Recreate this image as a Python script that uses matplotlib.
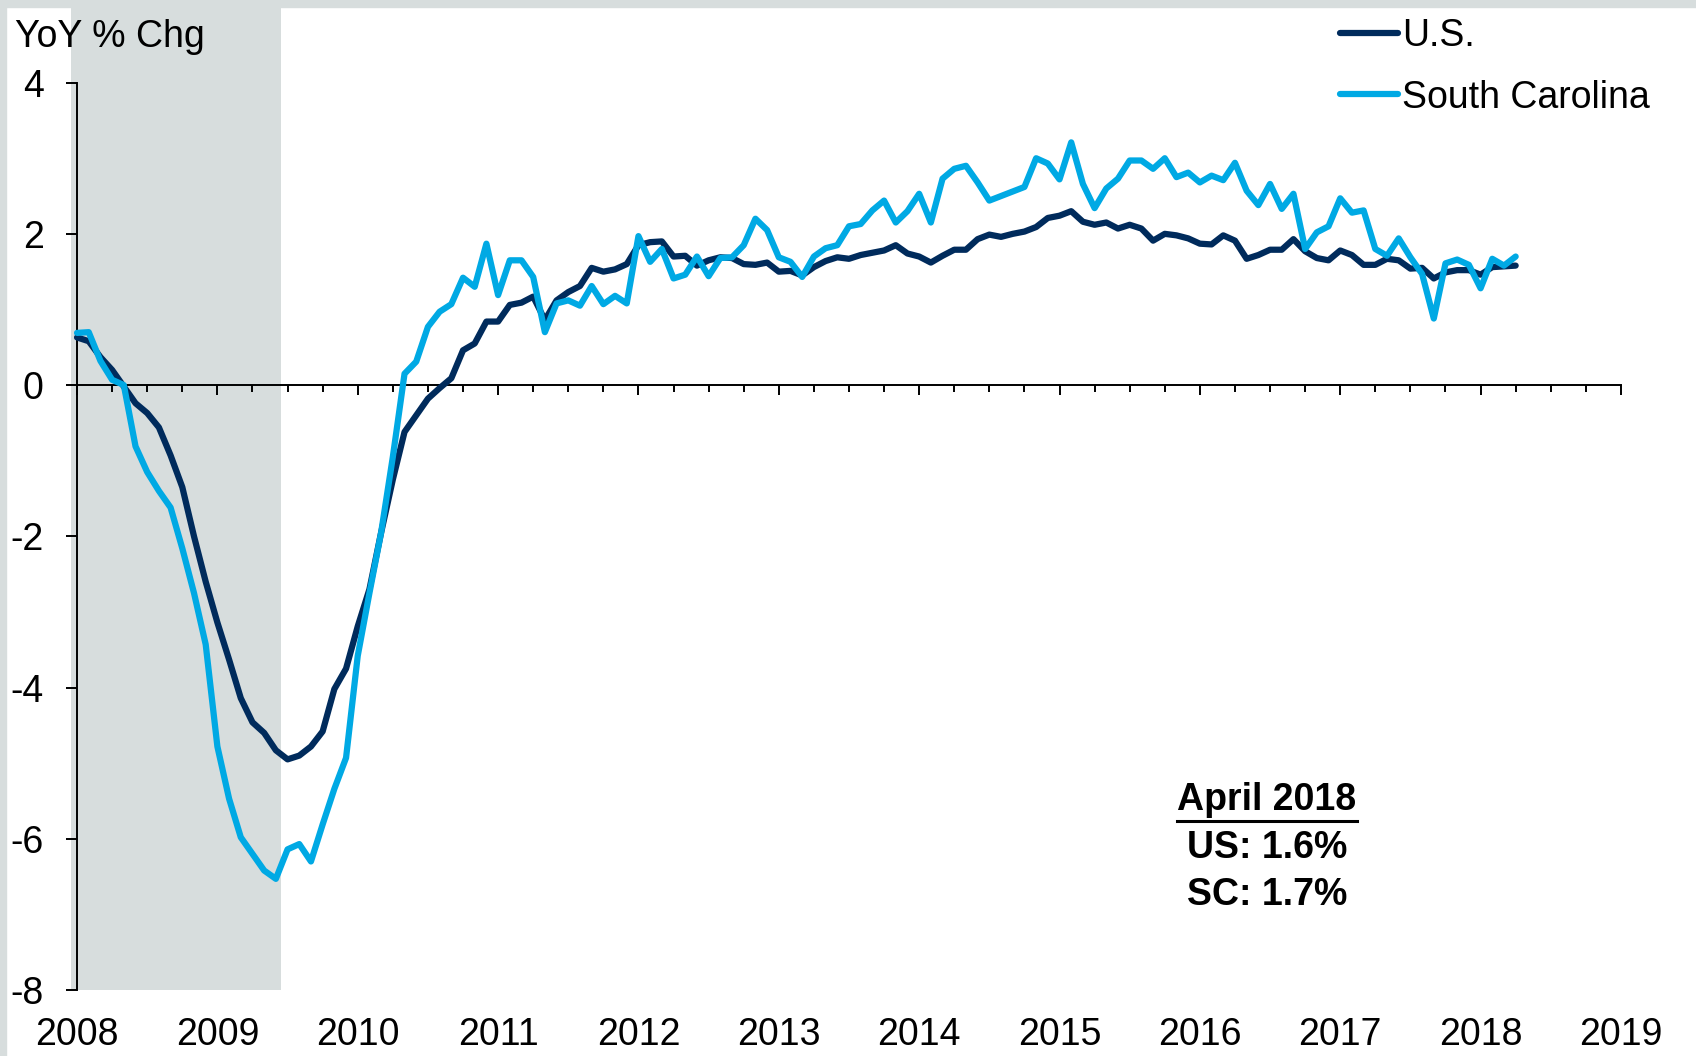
import matplotlib
matplotlib.use("Agg")
import matplotlib.pyplot as plt
import numpy as np
import pandas as pd
from matplotlib.lines import Line2D

plt.rcParams['font.family'] = ['Liberation Sans', 'DejaVu Sans']
plt.rcParams['axes.unicode_minus'] = False

# monthly YoY % change, Jan 2008 - Apr 2018
months = pd.date_range('2008-01-01', '2018-04-01', freq='MS')

us = [0.63, 0.58, 0.37, 0.20, -0.02, -0.24, -0.37, -0.56, -0.93, -1.35, -2.00, -2.60,
      -3.14, -3.63, -4.14, -4.46, -4.60, -4.83, -4.95, -4.90, -4.78, -4.58, -4.02, -3.75,
      -3.19, -2.70, -1.95, -1.25, -0.62, -0.40, -0.18, -0.04, 0.09, 0.46, 0.55, 0.84,
      0.84, 1.06, 1.09, 1.17, 0.86, 1.12, 1.23, 1.31, 1.55, 1.50, 1.53, 1.60,
      1.85, 1.89, 1.90, 1.70, 1.71, 1.58, 1.65, 1.69, 1.68, 1.60, 1.59, 1.62,
      1.50, 1.51, 1.45, 1.56, 1.64, 1.69, 1.67, 1.72, 1.75, 1.78, 1.85, 1.74,
      1.70, 1.62, 1.71, 1.79, 1.79, 1.93, 1.99, 1.96, 2.00, 2.03, 2.09, 2.21,
      2.24, 2.30, 2.16, 2.12, 2.15, 2.07, 2.12, 2.07, 1.91, 2.00, 1.98, 1.94,
      1.87, 1.86, 1.98, 1.91, 1.67, 1.72, 1.79, 1.79, 1.93, 1.77, 1.68, 1.65,
      1.78, 1.72, 1.59, 1.59, 1.67, 1.65, 1.54, 1.55, 1.41, 1.49, 1.52, 1.52,
      1.46, 1.56, 1.57, 1.58]

sc = [0.69, 0.70, 0.32, 0.07, 0.00, -0.81, -1.15, -1.40, -1.62, -2.16, -2.75, -3.43,
      -4.78, -5.47, -5.98, -6.20, -6.42, -6.53, -6.14, -6.07, -6.30, -5.81, -5.34, -4.93,
      -3.58, -2.75, -1.95, -0.95, 0.15, 0.31, 0.77, 0.97, 1.07, 1.42, 1.30, 1.87,
      1.19, 1.65, 1.65, 1.43, 0.70, 1.08, 1.12, 1.05, 1.31, 1.07, 1.18, 1.08,
      1.97, 1.63, 1.80, 1.41, 1.46, 1.70, 1.44, 1.68, 1.69, 1.85, 2.20, 2.05,
      1.69, 1.63, 1.43, 1.70, 1.81, 1.85, 2.10, 2.13, 2.31, 2.44, 2.15, 2.30,
      2.53, 2.15, 2.73, 2.86, 2.90, 2.68, 2.44, 2.50, 2.56, 2.62, 3.00, 2.93,
      2.72, 3.21, 2.66, 2.34, 2.60, 2.73, 2.97, 2.97, 2.86, 3.00, 2.75, 2.81,
      2.68, 2.77, 2.71, 2.94, 2.57, 2.38, 2.66, 2.33, 2.53, 1.80, 2.02, 2.10,
      2.47, 2.28, 2.31, 1.80, 1.71, 1.94, 1.69, 1.47, 0.88, 1.61, 1.66, 1.59,
      1.28, 1.67, 1.58, 1.70]

years = list(range(2008, 2020))
yticks = [-8, -6, -4, -2, 0, 2, 4]
recession = (2007.96, 2009.45)

navy = '#002B5C'
light = '#00A9E4'
gray = '#D7DDDD'
fs = 27

t = months.year + (months.month - 1) / 12.0

fig = plt.figure(figsize=(16.96, 10.56), dpi=100)
# grey frame strips on top and left
fig.patches.append(plt.Rectangle((0, 1 - 7 / 1056), 1, 7 / 1056, transform=fig.transFigure,
                                 color=gray, zorder=0))
fig.patches.append(plt.Rectangle((0, 0), 6 / 1696, 1, transform=fig.transFigure,
                                 color=gray, zorder=0))

ax = fig.add_axes([63 / 1696, 66 / 1056, 1586 / 1696, 983 / 1056])
ax.patch.set_alpha(0)
ax.set_xlim(2007.9, 2019.2)
ax.set_ylim(-8, 5.0)

ax.axvspan(recession[0], recession[1], color=gray, lw=0, zorder=0)

ax.plot(t, us, color=navy, lw=4.5, label='U.S.', solid_capstyle='round', zorder=3)
ax.plot(t, sc, color=light, lw=4.5, label='South Carolina', solid_capstyle='round', zorder=4)

for s in ['top', 'right']:
    ax.spines[s].set_visible(False)
ax.spines['left'].set_position(('data', 2008))
ax.spines['left'].set_bounds(-8, 4)
ax.spines['bottom'].set_position(('data', 0))
ax.spines['bottom'].set_bounds(2008, 2019)
ax.spines['left'].set_linewidth(1.4)
ax.spines['bottom'].set_linewidth(1.4)

ax.set_yticks(yticks)
ax.set_yticklabels([str(v) for v in yticks])
ax.tick_params(axis='y', direction='out', length=8, width=1.4, pad=16, labelsize=fs)

ax.set_xticks(years)
ax.set_xticks(np.arange(2008, 2019.01, 0.25), minor=True)
ax.tick_params(axis='x', which='major', direction='out', length=7, width=1.4, labelbottom=False)
ax.tick_params(axis='x', which='minor', direction='out', length=5, width=1.4)

for yr in years:
    ax.text(yr, -8.6, str(yr), ha='center', va='center', fontsize=fs, clip_on=False)

fig.text(15 / 1696, 1 - 47 / 1056, 'YoY % Chg', fontsize=fs, va='baseline', ha='left')

ax.legend(loc='upper left', bbox_to_anchor=(1340 / 1696, 1 - 18 / 1056),
          bbox_transform=fig.transFigure, frameon=False, borderpad=0, borderaxespad=0,
          handlelength=1.55, handletextpad=0.1, labelspacing=0.68, fontsize=fs)

cx = 1267 / 1696
t1 = fig.text(cx, 1 - 800 / 1056, 'April 2018', ha='center', va='center',
              fontsize=fs, fontweight='bold')
fig.text(cx, 1 - 848 / 1056, 'US: 1.6%', ha='center', va='center', fontsize=fs, fontweight='bold')
fig.text(cx, 1 - 895 / 1056, 'SC: 1.7%', ha='center', va='center', fontsize=fs, fontweight='bold')

# underline for the date heading
fig.canvas.draw()
bb = t1.get_window_extent().transformed(fig.transFigure.inverted())
fig.add_artist(Line2D([bb.x0, bb.x1], [1 - 821 / 1056] * 2, transform=fig.transFigure,
                      color='black', lw=2.2))

fig.savefig('out.png', dpi=100)
